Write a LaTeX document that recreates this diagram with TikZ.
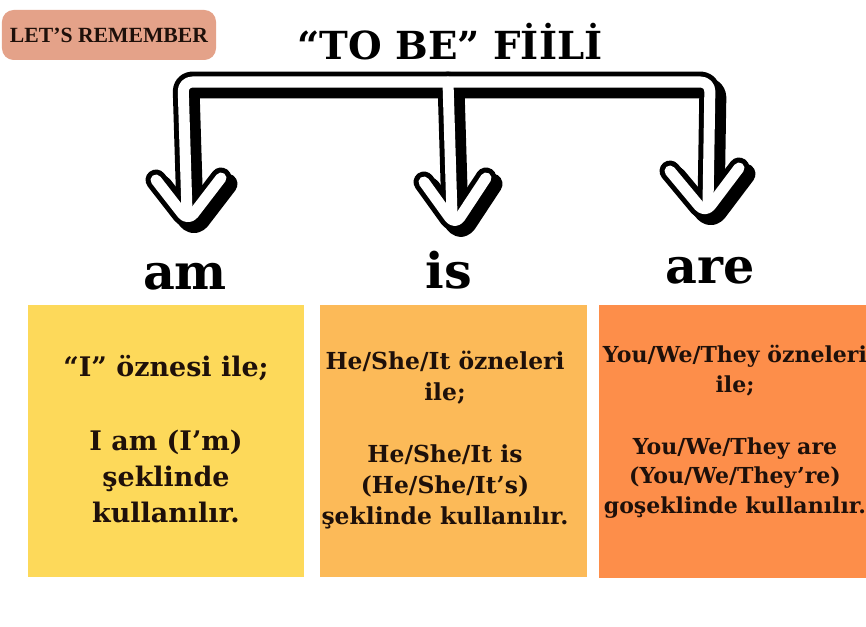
\documentclass[tikz,border=0pt]{standalone}
\usepackage{fontspec}
\setmainfont{DejaVu Serif}
\newfontfamily\badgefont{Liberation Serif}
\definecolor{badgecol}{RGB}{228,162,137}
\definecolor{inkcol}{RGB}{30,16,10}
\definecolor{amcol}{RGB}{253,217,90}
\definecolor{iscol}{RGB}{252,186,88}
\definecolor{arecol}{RGB}{253,142,74}
\newcommand\forkpaths[1]{%
  \draw[#1] (187,212) -- (183,82) -- (710,82) -- (708,205);
  \draw[#1] (448,82) -- (452,215);
  \draw[#1] (156,180) -- (188,221) -- (221,178);
  \draw[#1] (424,182) -- (455,225) -- (486,178);
  \draw[#1] (670,171) -- (705,213) -- (739,168);
}
\begin{document}
\begin{tikzpicture}[x=0.03cm,y=-0.03cm,
  bandline/.style={line width=17.9pt,line join=round,line cap=round,rounded corners=8pt},
  shadowline/.style={bandline,black,shift={(6,6)}},
  edgeline/.style={bandline,black},
  fillline/.style={bandline,line width=9.4pt,white},
  verb/.style={anchor=base,font=\bfseries\fontsize{42}{46}\selectfont},
  boxtext/.style={align=center,text=inkcol,inner sep=0pt}]
\useasboundingbox (0,0) rectangle (866,627);
\fill[white] (0,0) rectangle (866,627);
\node[fill=badgecol,rounded corners=10pt,minimum width=6.42cm,minimum height=1.5cm,
  text=inkcol,font=\badgefont\bfseries\fontsize{18.5}{20}\selectfont] (remember) at (109,35) {LET’S REMEMBER};
\node[anchor=base,font=\bfseries\fontsize{33}{36}\selectfont] (title) at (450,60) {“TO BE” FİİLİ};
\forkpaths{shadowline}
\forkpaths{edgeline}
\forkpaths{fillline}
\node[verb] (am) at (185,290) {am};
\node[verb] (is) at (449,289) {is};
\node[verb] (are) at (710,284) {are};
\fill[amcol] (28,305) rectangle (304,577);
\fill[iscol] (320,305) rectangle (587,577);
\fill[arecol] (599,305) rectangle (870,578);
\node[boxtext,font=\bfseries\fontsize{23}{30.6}\selectfont] (amtext) at (166,439)
  {“I” öznesi ile;\\[33pt] I am (I’m)\\ şeklinde\\ kullanılır.};
\node[boxtext,font=\bfseries\fontsize{20}{26.4}\selectfont] (istext) at (445,440)
  {He/She/It özneleri\\ ile;\\[27pt] He/She/It is\\ (He/She/It’s)\\ şeklinde kullanılır.};
\node[boxtext,font=\bfseries\fontsize{18.8}{25.5}\selectfont] (aretext) at (735,432)
  {You/We/They özneleri\\ ile;\\[27pt] You/We/They are\\ (You/We/They’re)\\ goşeklinde kullanılır.};
\end{tikzpicture}
\end{document}
